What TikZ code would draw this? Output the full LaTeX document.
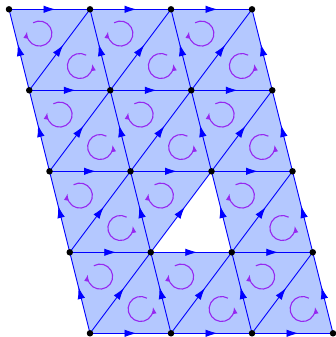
\documentclass[tikz,border=0pt]{standalone}
\usetikzlibrary{arrows.meta,decorations.markings}
\definecolor{fillblue}{RGB}{180,200,255}
\definecolor{edgeblue}{RGB}{0,0,255}
\definecolor{orient}{RGB}{150,40,240}
\tikzset{
  vdot/.style={circle,fill=black,inner sep=0pt,minimum size=6.5pt},
  edge/.style={color=edgeblue,line width=0.9pt,postaction={decorate},
    decoration={markings,mark=at position 0.5 with {\arrow[xshift=6pt]{Latex[length=12pt,width=7.5pt]}}}},
  orarrow/.style={color=orient,line width=1.1pt,-{Latex[length=7pt,width=5pt]}}
}
\begin{document}
\begin{tikzpicture}
\useasboundingbox (0pt,0pt) rectangle (336pt,337pt);
\begin{scope}[shift={(90pt,3.7pt)},x={(81pt,0pt)},y={(-20.25pt,81pt)}]
  \foreach \i in {0,...,3}
    \foreach \j in {0,...,4}
      \coordinate (p-\i-\j) at (\i,\j);
  % filled surface with the hole
  \fill[fillblue,even odd rule] (p-0-0) -- (p-3-0) -- (p-3-4) -- (p-0-4) -- cycle
        (p-2-2) -- (p-1-1) -- (p-2-1) -- cycle;
  % horizontal edges
  \foreach \j in {0,...,4}
    \foreach \i/\k in {0/1,1/2,2/3}
      \draw[edge] (p-\i-\j) -- (p-\k-\j);
  % slanted edges
  \foreach \i in {0,...,3}
    \foreach \j/\l in {0/1,1/2,2/3,3/4}
      \draw[edge] (p-\i-\j) -- (p-\i-\l);
  % diagonals
  \foreach \i/\k in {0/1,1/2,2/3}
    \foreach \j/\l in {0/1,1/2,2/3,3/4}
      \draw[edge] (p-\i-\j) -- (p-\k-\l);
  % orientation arrows
  \foreach \i in {0,1,2}
    \foreach \j in {0,...,3}{
      \draw[orarrow] (\i+0.3,\j+0.7) ++(120:12.5pt) arc[start angle=120,end angle=-190,radius=12.5pt];
    }
  \foreach \i/\j in {0/0,1/0,2/0,0/1,2/1,0/2,1/2,2/2,0/3,1/3,2/3}{
      \draw[orarrow] (\i+0.7,\j+0.3) ++(60:12.5pt) arc[start angle=60,end angle=370,radius=12.5pt];
  }
  % vertices
  \foreach \i in {0,...,3}
    \foreach \j in {0,...,4}
      \node[vdot] (d-\i-\j) at (p-\i-\j) {};
\end{scope}
\end{tikzpicture}
\end{document}
